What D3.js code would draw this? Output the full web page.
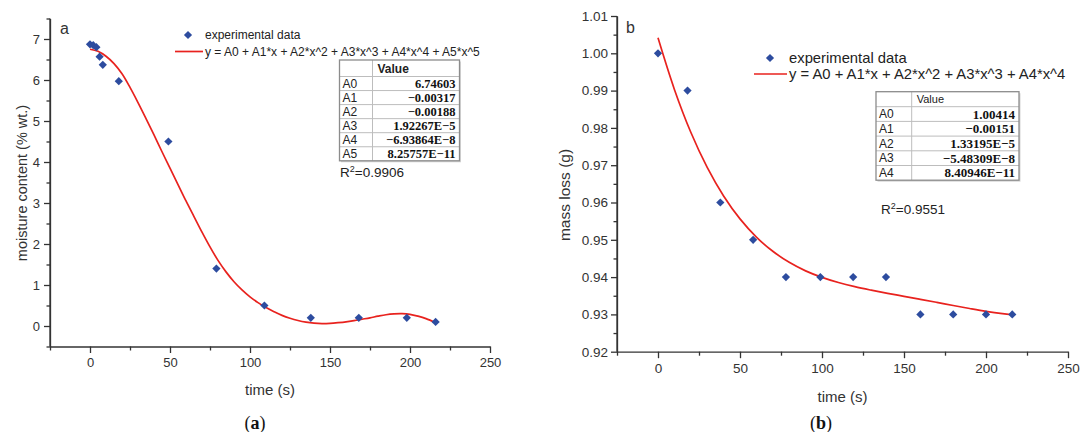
<!DOCTYPE html>
<html><head><meta charset="utf-8">
<script src="https://cdn.jsdelivr.net/npm/d3@7"></script>
<style>
html,body{margin:0;padding:0;background:#fff;}
svg{display:block;font-family:Arial,"Liberation Sans",sans-serif;}
</style></head>
<body><svg id="c" width="1087" height="432"></svg>
<script>
// ---------- data ----------
const timeA = [0, 2, 4, 6, 8, 18, 49, 79, 109, 138, 168, 198, 216];
const moistA = [6.87, 6.85, 6.80, 6.57, 6.37, 5.97, 4.50, 1.40, 0.50, 0.20, 0.20, 0.20, 0.10];
const fitTimeA = [0,5,10,15,20,25,30,35,40,45,50,55,60,65,70,75,80,85,90,95,100,105,110,115,120,125,130,135,140,145,150,155,160,165,170,175,180,185,190,195,200,205,210,216];
const fitMoistA = [6.75,6.70,6.58,6.40,6.15,5.82,5.45,5.06,4.66,4.25,3.85,3.45,3.05,2.67,2.29,1.93,1.60,1.32,1.08,0.88,0.71,0.57,0.45,0.35,0.26,0.19,0.135,0.095,0.07,0.06,0.065,0.08,0.10,0.13,0.165,0.20,0.24,0.275,0.295,0.30,0.285,0.24,0.18,0.08];

const timeB = [0, 18, 38, 58, 78, 99, 119, 139, 160, 180, 200, 216];
const massB = [1.00, 0.99, 0.96, 0.95, 0.94, 0.94, 0.94, 0.94, 0.93, 0.93, 0.93, 0.93];
const fitTimeB = [0,10,20,30,40,50,60,70,80,90,100,110,120,130,140,150,160,170,180,190,200,210,216];
const fitMassB = [1.00414,0.99032,0.97884,0.96942,0.96176,0.95561,0.95074,0.94692,0.94396,0.94167,0.93992,0.93854,0.93743,0.93650,0.93565,0.93485,0.93404,0.93322,0.93239,0.93158,0.93082,0.93019,0.92990];

const xTicks = [0, 50, 100, 150, 200, 250];
const xMinor = [-25, 25, 75, 125, 175, 225];
const yTicksA = [0, 1, 2, 3, 4, 5, 6, 7];
const yMinorA = [-0.5, 0.5, 1.5, 2.5, 3.5, 4.5, 5.5, 6.5, 7.5];
const yTicksB = [0.92, 0.93, 0.94, 0.95, 0.96, 0.97, 0.98, 0.99, 1.00, 1.01];
const yMinorB = [0.925, 0.935, 0.945, 0.955, 0.965, 0.975, 0.985, 0.995, 1.005];

const paramNamesA = ["A0","A1","A2","A3","A4","A5"];
const paramValuesA = ["6.74603","\u22120.00317","\u22120.00188","1.92267E\u22125","\u22126.93864E\u22128","8.25757E\u221211"];
const paramNamesB = ["A0","A1","A2","A3","A4"];
const paramValuesB = ["1.00414","\u22120.00151","1.33195E\u22125","\u22125.48309E\u22128","8.40946E\u221211"];

const legendData = "experimental data";
const formulaA = "y = A0 + A1*x + A2*x^2 + A3*x^3 + A4*x^4 + A5*x^5";
const formulaB = "y = A0 + A1*x + A2*x^2 + A3*x^3 + A4*x^4";
const r2A = "0.9906", r2B = "0.9551";

// ---------- drawing ----------
const svg = d3.select("#c");
const AX = "#333", BLUE = "#2d4c9f", RED = "#e8221e";

function panel(o){
  const g = svg.append("g");
  const x = d3.scaleLinear().domain([-25,250]).range(o.xr);
  const y = d3.scaleLinear().domain(o.yd).range(o.yr);
  // minor ticks
  g.append("g").attr("transform",`translate(0,${o.yr[0]})`)
    .call(d3.axisBottom(x).tickValues(xMinor).tickSize(4).tickFormat(""))
    .call(s=>s.select(".domain").remove());
  g.append("g").attr("transform",`translate(${o.xr[0]},0)`)
    .call(d3.axisLeft(y).tickValues(o.yMinor).tickSize(3.5).tickFormat(""))
    .call(s=>s.select(".domain").remove());
  const xa = g.append("g").attr("transform",`translate(0,${o.yr[0]})`)
    .call(d3.axisBottom(x).tickValues(xTicks).tickSize(6.5).tickSizeOuter(0).tickPadding(5).tickFormat(d3.format("d")));
  const ya = g.append("g").attr("transform",`translate(${o.xr[0]},0)`)
    .call(d3.axisLeft(y).tickValues(o.yTicks).tickSize(6).tickSizeOuter(0).tickPadding(o.yPad).tickFormat(o.yFmt));
  [xa,ya].forEach(a=>{
    a.selectAll("path,line").attr("stroke",AX).attr("stroke-width",1.3);
    a.selectAll("text").attr("fill",AX).style("font-size",o.tickFont+"px").style("font-family","Arial, 'Liberation Sans', sans-serif");
  });
  g.selectAll("line").attr("stroke",AX).attr("stroke-width",1.3);
  g.append("path").attr("d",`M${o.xr[0]},${o.yr[0]}V${o.yr[1]}`).attr("stroke",AX).attr("stroke-width",1.3);

  // axis titles
  g.append("text").attr("x",(o.xr[0]+o.xr[1])/2).attr("y",o.xTitleY).attr("text-anchor","middle")
    .attr("fill",AX).style("font-size","15px").text("time (s)");
  g.append("text").attr("transform",`translate(${o.yTitleX},${o.yTitleY}) rotate(-90)`).attr("text-anchor","middle")
    .attr("fill",AX).style("font-size",o.yTitleFont+"px").text(o.yTitle);
  // panel letter
  g.append("text").attr("x",o.letterPos[0]).attr("y",o.letterPos[1]).attr("fill",AX)
    .style("font-size","16px").text(o.letter);
  // caption
  const cap = g.append("text").attr("x",o.capX).attr("y",429).attr("text-anchor","middle")
    .attr("fill","#111").style("font-family","'Liberation Serif','DejaVu Serif',serif").style("font-size","18px");
  cap.append("tspan").text("(");
  cap.append("tspan").attr("font-weight","bold").text(o.letter);
  cap.append("tspan").text(")");

  // fit curve
  const line = d3.line().x(d=>x(d[0])).y(d=>y(d[1])).curve(d3.curveCatmullRom);
  g.append("path").datum(o.fitX.map((t,i)=>[t,o.fitY[i]])).attr("d",line)
    .attr("fill","none").attr("stroke",RED).attr("stroke-width",1.7);
  // points
  const sym = d3.symbol().type(d3.symbolSquare).size(34);
  g.selectAll("path.pt").data(o.px.map((t,i)=>[t,o.py[i]])).join("path").attr("class","pt")
    .attr("d",sym).attr("transform",d=>`translate(${x(d[0])},${y(d[1])}) rotate(45)`).attr("fill",BLUE);

  // legend
  const L = o.legend;
  g.append("path").attr("d",sym).attr("transform",`translate(${L.dx},${L.dy}) rotate(45)`).attr("fill",BLUE);
  g.append("text").attr("x",L.tx).attr("y",L.dy+L.fs*0.36).attr("fill","#222").style("font-size",L.fs+"px").text(legendData);
  g.append("line").attr("x1",L.lx1).attr("x2",L.lx2).attr("y1",L.ly).attr("y2",L.ly).attr("stroke",RED).attr("stroke-width",1.7);
  g.append("text").attr("x",L.tx).attr("y",L.ly+L.fs*0.36).attr("fill","#222").style("font-size",L.fs+"px").text(o.formula);

  // table
  const T = o.table;
  const tg = g.append("g");
  const nRows = o.names.length;
  const bottom = T.y0 + T.hh + T.rh*nRows;
  tg.append("rect").attr("x",T.x0+1.5).attr("y",T.y0+1.5).attr("width",T.x1-T.x0).attr("height",bottom-T.y0).attr("fill","#d6d6d6");
  tg.append("rect").attr("x",T.x0).attr("y",T.y0).attr("width",T.x1-T.x0).attr("height",bottom-T.y0).attr("fill","#fff");
  for(let i=0;i<nRows;i++){
    const yy = T.y0+T.hh+T.rh*i;
    tg.append("line").attr("x1",T.x0).attr("x2",T.x1).attr("y1",yy).attr("y2",yy).attr("stroke","#bdbdbd").attr("stroke-width",1);
  }
  tg.append("line").attr("x1",T.xd).attr("x2",T.xd).attr("y1",T.y0).attr("y2",bottom).attr("stroke","#bdbdbd").attr("stroke-width",1);
  tg.append("rect").attr("x",T.x0).attr("y",T.y0).attr("width",T.x1-T.x0).attr("height",bottom-T.y0)
    .attr("fill","none").attr("stroke","#8c8c8c").attr("stroke-width",1.3);
  tg.append("text").attr("x",T.xd+5).attr("y",T.y0+T.hh/2+T.hf*0.36).attr("fill","#222")
    .attr("font-weight",T.hb?"bold":"normal").style("font-size",T.hf+"px").text("Value");
  o.names.forEach((n,i)=>{
    const cy = T.y0+T.hh+T.rh*(i+0.5);
    tg.append("text").attr("x",T.x0+3).attr("y",cy+T.lf*0.36).attr("fill","#222").style("font-size",T.lf+"px").text(n);
    tg.append("text").attr("x",T.x1-4).attr("y",cy+T.vf*0.35).attr("text-anchor","end").attr("fill","#111")
      .attr("font-weight","bold").style("font-family","'Liberation Serif','Times New Roman',serif").style("font-size",T.vf+"px").text(o.values[i]);
  });

  // R^2
  const rt = g.append("text").attr("x",o.r2Pos[0]).attr("y",o.r2Pos[1]).attr("fill","#222").style("font-size","13.5px");
  rt.append("tspan").text("R");
  rt.append("tspan").attr("dy",-5).style("font-size","9px").text("2");
  rt.append("tspan").attr("dy",5).text("="+o.r2);
}

panel({
  xr:[50,490], yd:[-0.5,7.5], yr:[346.5,18.5], yTicks:yTicksA, yMinor:yMinorA, yFmt:d3.format("d"), yPad:4, tickFont:13,
  xTitleY:395, yTitleX:27, yTitleY:183, yTitle:"moisture content (% wt.)", yTitleFont:14.5,
  letter:"a", letterPos:[60,34], capX:255,
  fitX:fitTimeA, fitY:fitMoistA, px:timeA, py:moistA,
  legend:{dx:188, dy:35, tx:205, lx1:175, lx2:203, ly:51.5, fs:12},
  formula:formulaA,
  table:{x0:339.5, x1:459.5, y0:60, hh:16.5, rh:14.05, xd:372.5, hf:12, hb:true, lf:12, vf:12.5},
  names:paramNamesA, values:paramValuesA,
  r2Pos:[340,177], r2:r2A
});

panel({
  xr:[617,1068], yd:[0.92,1.01], yr:[351.7,16], yTicks:yTicksB, yMinor:yMinorB, yFmt:d3.format(".2f"), yPad:3, tickFont:13.5,
  xTitleY:402, yTitleX:570, yTitleY:195, yTitle:"mass loss (g)", yTitleFont:15.5,
  letter:"b", letterPos:[626,33], capX:821,
  fitX:fitTimeB, fitY:fitMassB, px:timeB, py:massB,
  legend:{dx:770, dy:58, tx:789, lx1:754, lx2:787, ly:74, fs:14.8},
  formula:formulaB,
  table:{x0:876, x1:1019, y0:91.7, hh:15, rh:14.7, xd:911.7, hf:11, hb:false, lf:12, vf:13},
  names:paramNamesB, values:paramValuesB,
  r2Pos:[881,214], r2:r2B
});
</script></body></html>
